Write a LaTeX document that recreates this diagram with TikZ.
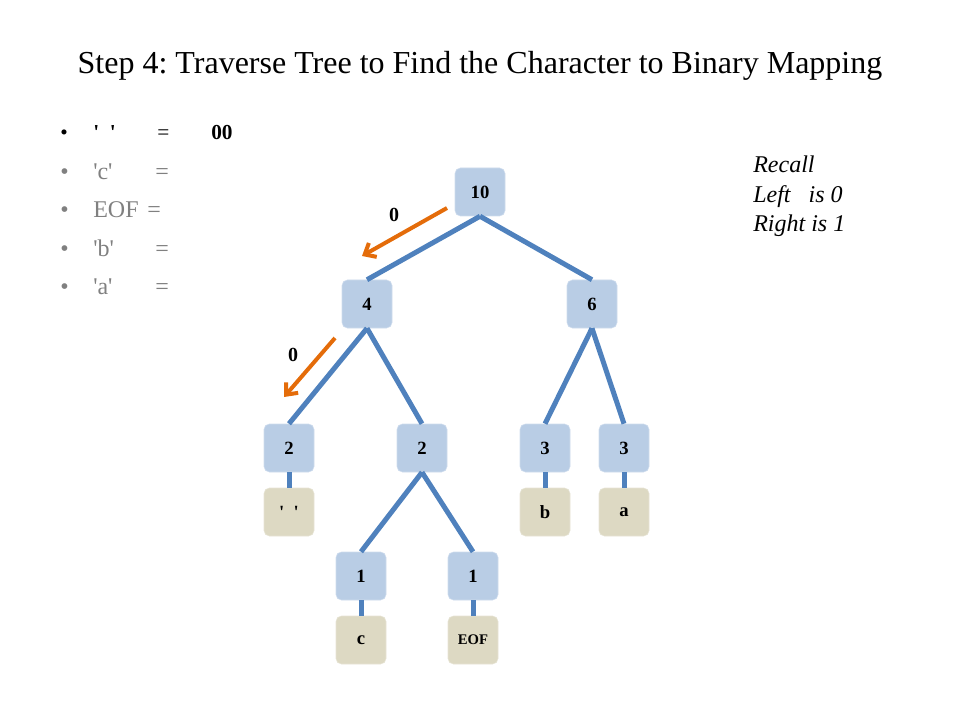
\documentclass[tikz,border=0pt]{standalone}
\usepackage{fontspec}
\setmainfont{Liberation Serif}
\usetikzlibrary{arrows.meta}

\definecolor{edgeblue}{RGB}{79,129,189}
\definecolor{boxblue}{RGB}{185,205,229}
\definecolor{boxtan}{RGB}{221,217,195}
\definecolor{bitorange}{RGB}{228,108,10}
\definecolor{listgray}{RGB}{128,128,128}
\newcommand{\sq}{\textquotesingle}
\frenchspacing

\tikzset{
  wbox/.style={fill=boxblue, draw=boxblue!70!white, rounded corners=4pt,
    minimum width=37.5pt, minimum height=36pt, inner sep=0pt,
    font=\fontsize{14}{14}\selectfont\bfseries},
  cbox/.style={wbox, fill=boxtan, draw=boxtan!70!white},
  tedge/.style={draw=edgeblue, line width=3.75pt},
  bitarrow/.style={draw=bitorange, line width=3pt, -{Straight Barb[length=7pt,width=12pt]}},
  bitlabel/.style={font=\fontsize{15}{15}\selectfont\bfseries},
  listitem/.style={anchor=base west, inner sep=0pt, text=listgray,
    font=\fontsize{18}{18}\selectfont},
}

\begin{document}
\begin{tikzpicture}[x=0.75pt,y=0.75pt,yscale=-1,xscale=1]
\path[use as bounding box] (0,0) rectangle (960,720);

% Title
\node (title) at (480,66) {\fontsize{24}{24}\selectfont Step 4: Traverse Tree to Find the Character to Binary Mapping};

% Mapping list
\node[anchor=base west, inner sep=0pt, font=\fontsize{16}{16}\selectfont] (b1) at (60,140) {\textbullet};
\node[anchor=base west, inner sep=0pt, font=\fontsize{16}{16}\selectfont\bfseries] (k1) at (93,140) {\sq\ \ \sq};
\node[anchor=base west, inner sep=0pt, font=\fontsize{16}{16}\selectfont] (e1) at (157,140) {=};
\node[anchor=base west, inner sep=0pt, font=\fontsize{16}{16}\selectfont\bfseries] (v1) at (211,140) {00};

\node[listitem] (b2) at (60,180) {\textbullet};
\node[listitem] (k2) at (93,180) {\sq c\sq};
\node[listitem] (e2) at (155,180) {=};
\node[listitem] (b3) at (60,218) {\textbullet};
\node[listitem] (k3) at (93,218) {EOF};
\node[listitem] (e3) at (147,218) {=};
\node[listitem] (b4) at (60,257) {\textbullet};
\node[listitem] (k4) at (93,257) {\sq b\sq};
\node[listitem] (e4) at (155,257) {=};
\node[listitem] (b5) at (60,295) {\textbullet};
\node[listitem] (k5) at (93,295) {\sq a\sq};
\node[listitem] (e5) at (155,295) {=};

% Recall note
\node[anchor=north west, inner sep=0pt, align=left,
  font=\fontsize{18}{22}\selectfont\itshape] (recall) at (753,156)
  {Recall\\Left\ \ \ is 0\\Right is 1};

% Tree nodes
\node[wbox] (n10) at (480,192) {10};
\node[wbox] (n4) at (367,304) {4};
\node[wbox] (n6) at (592,304) {6};
\node[wbox] (n2a) at (289,448) {2};
\node[wbox] (n2b) at (422,448) {2};
\node[wbox] (n3a) at (545,448) {3};
\node[wbox] (n3b) at (624,448) {3};
\node[wbox] (n1a) at (361,576) {1};
\node[wbox] (n1b) at (473,576) {1};

\node[cbox] (csp) at (289,512) {\sq\ \ \sq};
\node[cbox] (cb) at (545,512) {b};
\node[cbox] (ca) at (624,512) {a};
\node[cbox] (cc) at (361,640) {c};
\node[cbox, font=\fontsize{11}{11}\selectfont\bfseries] (ceof) at (473,640) {EOF};

% Tree edges
\draw[tedge] (n10.south) -- (n4.north);
\draw[tedge] (n10.south) -- (n6.north);
\draw[tedge] (n4.south) -- (n2a.north);
\draw[tedge] (n4.south) -- (n2b.north);
\draw[tedge] (n6.south) -- (n3a.north);
\draw[tedge] (n6.south) -- (n3b.north);
\draw[tedge] (n2b.south) -- (n1a.north);
\draw[tedge] (n2b.south) -- (n1b.north);
\draw[tedge] (n2a.south) -- (csp.north);
\draw[tedge] (n3a.south) -- (cb.north);
\draw[tedge] (n3b.south) -- (ca.north);
\draw[tedge] (n1a.south) -- (cc.north);
\draw[tedge] (n1b.south) -- (ceof.north);

% Traversal arrows
\coordinate (a1s) at (447,208);
\coordinate (a1e) at (362,256);
\coordinate (a2s) at (335,338);
\coordinate (a2e) at (284,397);
\draw[bitarrow] (a1s) -- (a1e);
\draw[bitarrow] (a2s) -- (a2e);
\node[bitlabel] (l1) at (394,215) {0};
\node[bitlabel] (l2) at (293,355) {0};

\end{tikzpicture}
\end{document}
